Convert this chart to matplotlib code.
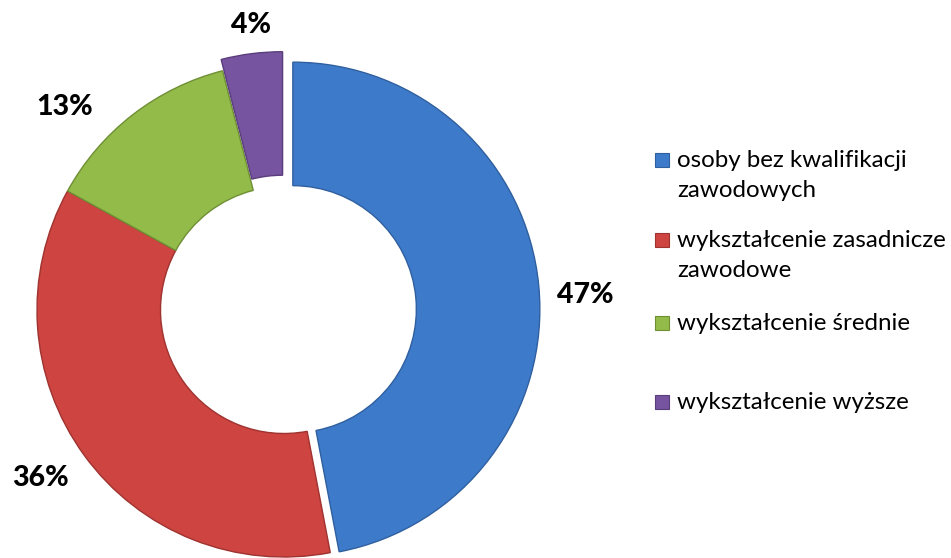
import matplotlib
matplotlib.use("Agg")
import matplotlib.pyplot as plt
from matplotlib.patches import Rectangle

# ---- data ----
categories = ["osoby bez kwalifikacji\nzawodowych",
              "wykształcenie zasadnicze\nzawodowe",
              "wykształcenie średnie",
              "wykształcenie wyższe"]
values = [47, 36, 13, 4]
pct_labels = ["47%", "36%", "13%", "4%"]

# ---- style ----
colors = ["#3d7bca", "#cd4440", "#93bb49", "#7754a0"]
edges = ["#2f5f9e", "#9e3330", "#6f8f35", "#5a3e7c"]
explode = [0.036, 0, 0, 0.046]
label_pos = [(1.219, 0.061), (-0.988, -0.682), (-0.887, 0.822), (-0.134, 1.154)]

W, H = 951, 558
fig = plt.figure(figsize=(W / 100, H / 100), dpi=100)

cx, cy, R = 284, 310, 247
lim = 1.1
side = 2 * R * lim
ax = fig.add_axes([(cx - side / 2) / W, (H - cy - side / 2) / H, side / W, side / H])
wedges, _ = ax.pie(values, colors=colors, explode=explode, startangle=90,
                   counterclock=False, radius=1,
                   wedgeprops=dict(width=0.5, linewidth=1.0))
for w, ec in zip(wedges, edges):
    w.set_edgecolor(ec)
ax.set_xlim(-lim, lim)
ax.set_ylim(-lim, lim)
ax.set_aspect("equal")
ax.axis("off")

for (lx, ly), t in zip(label_pos, pct_labels):
    ax.text(lx, ly, t, ha="center", va="center", fontsize=20.5,
            fontweight="black", family=["Lato", "DejaVu Sans"], color="black")

# ---- legend (manual, to match wrapped layout) ----
baselines = [167, 247, 330, 409]
line_step = 30
for cat, col, ec, b in zip(categories, colors, edges, baselines):
    fig.patches.append(Rectangle(((655) / W, (H - b) / H), 14 / W, 14 / H,
                                 transform=fig.transFigure, facecolor=col,
                                 edgecolor=ec, linewidth=0.8))
    for k, line in enumerate(cat.split("\n")):
        fig.text(677 / W, (H - b - k * line_step) / H, line, ha="left",
                 va="baseline", fontsize=17.4, family=["Lato", "DejaVu Sans"],
                 color="black")

fig.savefig("out.png", dpi=100)
